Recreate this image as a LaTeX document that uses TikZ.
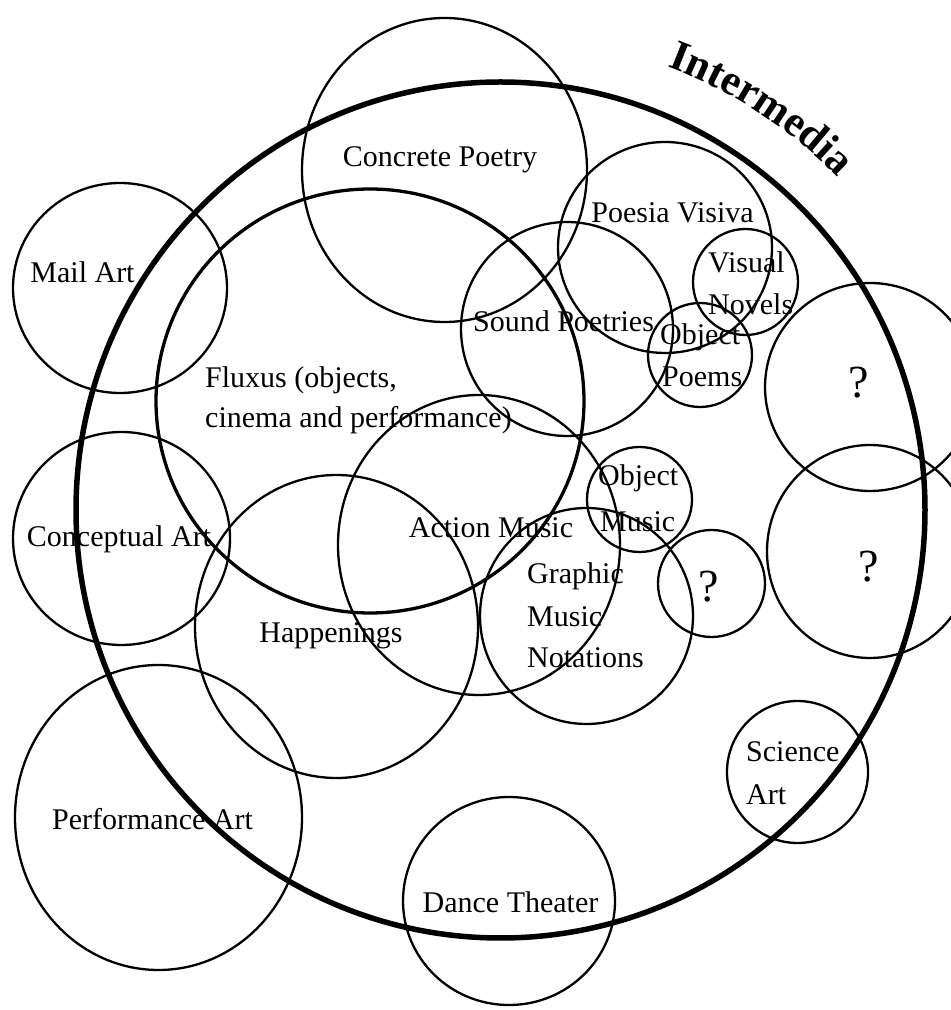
\documentclass[tikz,border=0pt]{standalone}
\usepackage{fontspec}
\setmainfont{Liberation Serif}
\usetikzlibrary{decorations.text}
\begin{document}
\begin{tikzpicture}[x=1pt, y=1pt,
    ring/.style={draw=black, line width=2.3pt},
    fluxusring/.style={draw=black, line width=3.3pt},
    mainring/.style={draw=black, line width=5.5pt},
    lbl/.style={font=\fontsize{30}{36}\selectfont, inner sep=0pt},
    qmark/.style={font=\fontsize{46}{46}\selectfont, inner sep=0pt}]

    % Page frame
    \useasboundingbox (0,0) rectangle (951,1010);
    \clip (0,0) rectangle (951,1010);
    \fill[white] (0,0) rectangle (951,1010);

    % Centres of the fields
    \coordinate (intermedia) at (500.5,500);
    \coordinate (concrete) at (444.5,840);
    \coordinate (mail) at (120,722);
    \coordinate (fluxus) at (370,609);
    \coordinate (poesia) at (665,762.5);
    \coordinate (sound) at (567,681);
    \coordinate (novels) at (745.5,728);
    \coordinate (objpoems) at (700,655);
    \coordinate (qtop) at (870,623);
    \coordinate (qlow) at (870,458.5);
    \coordinate (objmusic) at (639.5,510.5);
    \coordinate (qsmall) at (711.5,426.5);
    \coordinate (graphic) at (586.5,394);
    \coordinate (action) at (479,465);
    \coordinate (happen) at (336.5,383.5);
    \coordinate (concept) at (121.5,471.5);
    \coordinate (perform) at (158.5,192.5);
    \coordinate (dance) at (509,109);
    \coordinate (science) at (797.5,238);

    % Fields
    \foreach \c/\rx/\ry in {concrete/142.5/152, mail/107/105, poesia/107/105.5,
        sound/106/107, novels/52.5/53, objpoems/52/52, qtop/105/104,
        qlow/103/106.5, objmusic/52.5/52.5, qsmall/53.5/53.5,
        graphic/106.5/108, action/141/150, happen/141.5/151.5,
        concept/108.5/106.5, perform/143.5/152.5, dance/106/104,
        science/70.5/71}
        \draw[ring] (\c) ellipse [x radius=\rx, y radius=\ry];
    \draw[fluxusring] (fluxus) ellipse [x radius=214, y radius=212];

    % Intermedia circle
    \draw[mainring] (intermedia) ellipse [x radius=424.5, y radius=428];

    % Labels
    \node[lbl, anchor=base] (concreteLbl) at (440,843) {Concrete Poetry};
    \node[lbl, anchor=base] (mailLbl) at (82.5,727) {Mail Art};
    \node[lbl, anchor=base] (poesiaLbl) at (672.5,787) {Poesia Visiva};
    \node[lbl, anchor=base west] (visualLbl) at (708,737) {Visual};
    \node[lbl, anchor=base west] (novelsLbl) at (708,695) {Novels};
    \node[lbl, anchor=base] (soundLbl) at (563.5,678) {Sound Poetries};
    \node[lbl, anchor=base west] (objpoemsLbl) at (660,665) {Object};
    \node[lbl, anchor=base west] (poemsLbl) at (662,623) {Poems};
    \node[lbl, anchor=base west] (fluxusLbl) at (205,622) {Fluxus (objects,};
    \node[lbl, anchor=base west] (cinemaLbl) at (205,582) {cinema and performance)};
    \node[lbl, anchor=base] (conceptLbl) at (119,463) {Conceptual Art};
    \node[lbl, anchor=base] (happenLbl) at (331,367) {Happenings};
    \node[lbl, anchor=base] (actionLbl) at (491,472) {Action Music};
    \node[lbl, anchor=base west] (objmusicLbl) at (598,524) {Object};
    \node[lbl, anchor=base west] (musicLbl) at (600,478) {Music};
    \node[lbl, anchor=base west] (graphicLbl) at (527,426) {Graphic};
    \node[lbl, anchor=base west] (gmusicLbl) at (527,383) {Music};
    \node[lbl, anchor=base west] (notationsLbl) at (527,342) {Notations};
    \node[lbl, anchor=base] (performLbl) at (152.5,180) {Performance Art};
    \node[lbl, anchor=base] (danceLbl) at (510.5,97) {Dance Theater};
    \node[lbl, anchor=base west] (scienceLbl) at (746,248) {Science};
    \node[lbl, anchor=base west] (artLbl) at (746,205) {Art};
    \node[qmark, anchor=base] (qtopLbl) at (859,612) {?};
    \node[qmark, anchor=base] (qlowLbl) at (869,428) {?};
    \node[qmark, anchor=base] (qsmallLbl) at (709,408) {?};

    % Curved title
    \path[decorate, decoration={text along path, text align=center,
        text={|\fontsize{43}{43}\selectfont\bfseries|Intermedia}}]
        (intermedia) ++(80:474) arc [start angle=80, end angle=34, radius=474];
\end{tikzpicture}
\end{document}
